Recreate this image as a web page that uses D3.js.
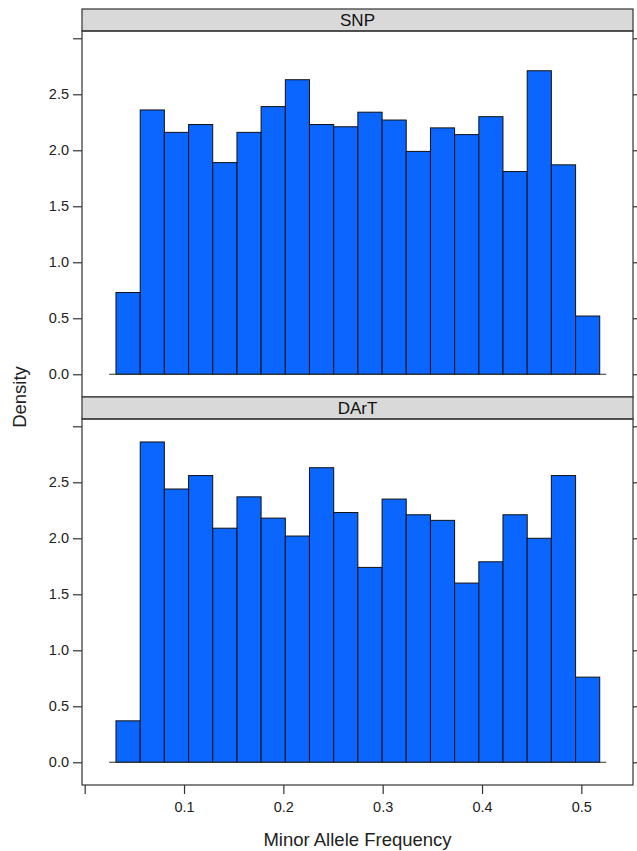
<!DOCTYPE html>
<html>
<head>
<meta charset="utf-8">
<script src="https://cdn.jsdelivr.net/npm/d3@7"></script>
<style>
  body { margin: 0; background: #fff; }
  svg { display: block; font-family: "Liberation Sans", Arial, Helvetica, sans-serif; }
</style>
</head>
<body>
<div id="chart"></div>
<script>
// bin edges of the histogram (minor allele frequency)
const binEdges = [0.0315, 0.0559, 0.0802, 0.1046, 0.1289, 0.1533, 0.1776, 0.2020,
  0.2263, 0.2507, 0.2750, 0.2994, 0.3237, 0.3481, 0.3724, 0.3968, 0.4211,
  0.4455, 0.4698, 0.4942, 0.5185];

const snpDensity = [0.73, 2.36, 2.16, 2.23, 1.89, 2.16, 2.39, 2.63, 2.23, 2.21,
  2.34, 2.27, 1.99, 2.20, 2.14, 2.30, 1.81, 2.71, 1.87, 0.52];

const dartDensity = [0.37, 2.86, 2.44, 2.56, 2.09, 2.37, 2.18, 2.02, 2.63, 2.23,
  1.74, 2.35, 2.21, 2.16, 1.60, 1.79, 2.21, 2.00, 2.56, 0.76];

const panelNames = ["SNP", "DArT"];
const xTicks = [0, 0.1, 0.2, 0.3, 0.4, 0.5];
const yTicks = [0, 0.5, 1.0, 1.5, 2.0, 2.5, 3.0];

const W = 637, H = 851;
const left = 82, right = 633;
const stripH = 22;
const panelTops = [9, 397];
const panelH = 388; // strip + plot

const fill = "#0a66ff";
const axisCol = "#333";

const svg = d3.select("#chart").append("svg")
  .attr("width", W)
  .attr("height", H);

const x = d3.scaleLinear()
  .domain([-0.0027, 0.552])
  .range([left, right]);

const panels = [
  { name: panelNames[0], values: snpDensity },
  { name: panelNames[1], values: dartDensity }
];

panels.forEach((p, i) => {
  const top = panelTops[i];
  const plotTop = top + stripH;
  const plotBottom = top + panelH;

  const y = d3.scaleLinear()
    .domain([-0.203, 3.065])
    .range([plotBottom, plotTop]);

  const g = svg.append("g");

  // strip
  g.append("rect")
    .attr("x", left)
    .attr("y", top)
    .attr("width", right - left)
    .attr("height", stripH)
    .attr("fill", "#d9d9d9")
    .attr("stroke", axisCol)
    .attr("stroke-width", 1.2);

  g.append("text")
    .attr("x", (left + right) / 2)
    .attr("y", top + stripH / 2 + 6)
    .attr("text-anchor", "middle")
    .attr("font-size", 17)
    .attr("fill", "#111")
    .text(p.name);

  // bars
  g.selectAll("rect.bar")
    .data(p.values)
    .join("rect")
    .attr("class", "bar")
    .attr("x", (d, j) => x(binEdges[j]))
    .attr("width", (d, j) => x(binEdges[j + 1]) - x(binEdges[j]))
    .attr("y", d => y(d))
    .attr("height", d => y(0) - y(d))
    .attr("fill", fill)
    .attr("stroke", "#111")
    .attr("stroke-width", 1);

  // zero line
  g.append("line")
    .attr("x1", x(0.0246))
    .attr("x2", x(0.525))
    .attr("y1", y(0))
    .attr("y2", y(0))
    .attr("stroke", axisCol)
    .attr("stroke-width", 1);

  // panel border
  g.append("rect")
    .attr("x", left)
    .attr("y", plotTop)
    .attr("width", right - left)
    .attr("height", plotBottom - plotTop)
    .attr("fill", "none")
    .attr("stroke", axisCol)
    .attr("stroke-width", 1.2);

  // left axis
  const yAxisL = d3.axisLeft(y)
    .tickValues(yTicks)
    .tickSize(9)
    .tickPadding(4)
    .tickFormat(d => d === 3 ? "" : d3.format(".1f")(d));

  const gl = g.append("g")
    .attr("transform", `translate(${left},0)`)
    .call(yAxisL);
  gl.select(".domain").remove();
  gl.selectAll("line").attr("stroke", axisCol).attr("stroke-width", 1.2);
  gl.selectAll("text").attr("font-size", 14.5).attr("fill", "#222")
    .attr("font-family", "\"Liberation Sans\", Arial, sans-serif");

  // right axis (ticks only)
  const yAxisR = d3.axisRight(y)
    .tickValues(yTicks)
    .tickSize(9)
    .tickFormat("");

  const gr = g.append("g")
    .attr("transform", `translate(${right},0)`)
    .call(yAxisR);
  gr.select(".domain").remove();
  gr.selectAll("line").attr("stroke", axisCol).attr("stroke-width", 1.2);

  if (i === panels.length - 1) {
    const xAxis = d3.axisBottom(x)
      .tickValues(xTicks)
      .tickSize(9)
      .tickPadding(8)
      .tickFormat(d => d === 0 ? "" : d3.format(".1f")(d));

    const gx = g.append("g")
      .attr("transform", `translate(0,${plotBottom})`)
      .call(xAxis);
    gx.select(".domain").remove();
    gx.selectAll("line").attr("stroke", axisCol).attr("stroke-width", 1.2);
    gx.selectAll("text").attr("font-size", 14.5).attr("fill", "#222")
      .attr("font-family", "\"Liberation Sans\", Arial, sans-serif");
  }
});

// axis titles
svg.append("text")
  .attr("x", (left + right) / 2)
  .attr("y", 846)
  .attr("text-anchor", "middle")
  .attr("font-size", 18.5)
  .attr("fill", "#222")
  .text("Minor Allele Frequency");

svg.append("text")
  .attr("transform", `translate(26, ${panelTops[1]}) rotate(-90)`)
  .attr("text-anchor", "middle")
  .attr("font-size", 18.5)
  .attr("fill", "#222")
  .text("Density");
</script>
</body>
</html>
